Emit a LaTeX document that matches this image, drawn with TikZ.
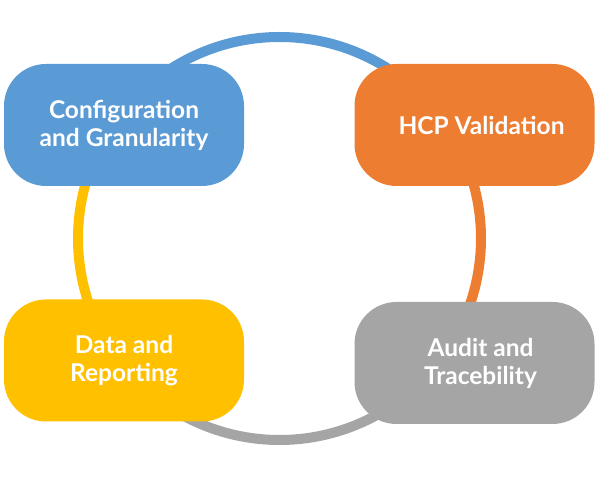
\documentclass[tikz,border=0pt]{standalone}
\usepackage{fontspec}
\setmainfont{Lato}
\definecolor{cblue}{HTML}{5B9BD5}
\definecolor{corange}{HTML}{ED7D31}
\definecolor{cyellow}{HTML}{FFC000}
\definecolor{cgray}{HTML}{A5A5A5}
\begin{document}
\begin{tikzpicture}[x=1pt,y=1pt,
  card/.style={rounded corners=42pt, minimum width=240pt, minimum height=122pt,
    inner sep=0pt, align=center, text=white, font=\fontsize{24.5}{28}\selectfont\bfseries},
  ring/.style={line width=10pt}]
\useasboundingbox (0,0) rectangle (600,500);
\coordinate (c) at (279.5,261.5);
\draw[ring, cblue] ([shift={(45:201.5)}]c) arc[start angle=45, end angle=135, radius=201.5];
\draw[ring, cyellow] ([shift={(135:201.5)}]c) arc[start angle=135, end angle=225, radius=201.5];
\draw[ring, cgray] ([shift={(225:201.5)}]c) arc[start angle=225, end angle=315, radius=201.5];
\draw[ring, corange] ([shift={(315:201.5)}]c) arc[start angle=315, end angle=405, radius=201.5];
\node[card, fill=cblue] (cfg) at (124,375) {Configuration\\and Granularity};
\node[card, fill=corange] (hcp) at (474.5,375) {\hspace*{14pt}HCP Validation};
\node[card, fill=cyellow] (data) at (124,139.5) {Data and\\Reporting};
\node[card, fill=cgray] (audit) at (474.5,137) {\hspace*{12pt}Audit and\\\hspace*{12pt}Tracebility};
\end{tikzpicture}
\end{document}
